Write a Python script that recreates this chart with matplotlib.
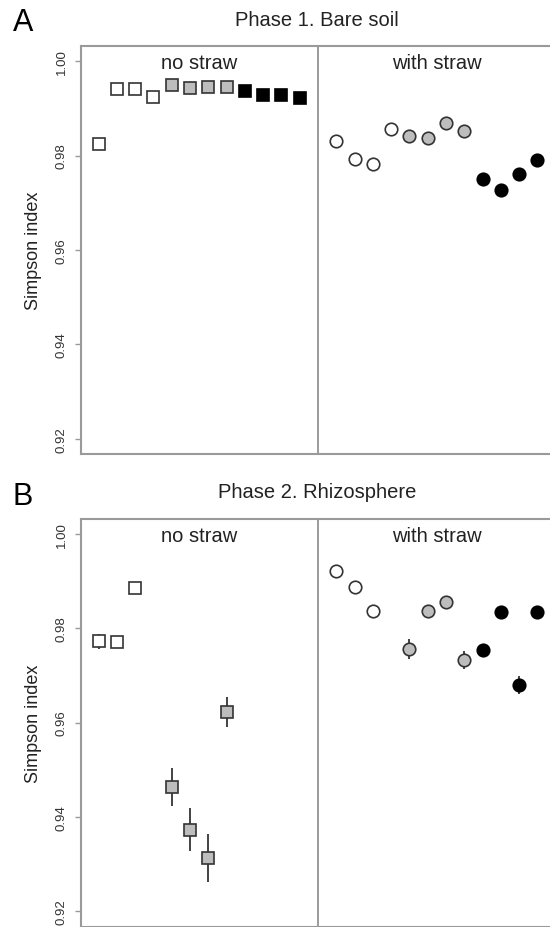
import numpy as np
import matplotlib
matplotlib.use("Agg")
import matplotlib.pyplot as plt

plt.rcParams['font.family'] = ['Liberation Sans', 'DejaVu Sans']

# ---------------- data ----------------
panel_titles = ["Phase 1. Bare soil", "Phase 2. Rhizosphere"]
panel_letters = ["A", "B"]
treatments = ["no straw", "with straw"]
groups = ["white", "gray", "black"]          # 4 samples per group
group_fill = {"white": "white", "gray": "#bdbdbd", "black": "black"}

# Phase 1 (bare soil)
p1_nostraw = [0.9825, 0.9940, 0.9942, 0.9924, 0.9950, 0.9943, 0.9945, 0.9945,
              0.9936, 0.9928, 0.9928, 0.9921]
p1_nostraw_err = [0.0005] * 12
p1_straw = [0.9830, 0.9793, 0.9782, 0.9857, 0.9842, 0.9837, 0.9869, 0.9851,
            0.9750, 0.9727, 0.9761, 0.9791]
p1_straw_err = [0.0005] * 12

# Phase 2 (rhizosphere)
nan = np.nan
p2_nostraw = [0.9772, 0.9770, 0.9885, nan, 0.9463, 0.9373, 0.9313, 0.9623,
              nan, nan, nan, nan]
p2_nostraw_err = [0.0016, 0.0005, 0.0005, nan, 0.0040, 0.0046, 0.0050, 0.0032,
                  nan, nan, nan, nan]
p2_straw = [0.9920, 0.9886, 0.9837, nan, 0.9756, 0.9837, 0.9856, 0.9732,
            0.9753, 0.9834, 0.9680, 0.9834]
p2_straw_err = [0.0005, 0.0005, 0.0005, nan, 0.0021, 0.0005, 0.0005, 0.0019,
                0.0012, 0.0005, 0.0019, 0.0005]

yticks = [0.92, 0.94, 0.96, 0.98, 1.00]
ytick_labels = ["0.92", "0.94", "0.96", "0.98", "1.00"]
ylabel = "Simpson index"

panels = [
    [(p1_nostraw, p1_nostraw_err), (p1_straw, p1_straw_err)],
    [(p2_nostraw, p2_nostraw_err), (p2_straw, p2_straw_err)],
]

# ---------------- figure ----------------
W, H = 550, 928
fig = plt.figure(figsize=(W / 100, H / 100), dpi=100)

axes_px = [(81, 555, 47, 455), (81, 555, 519.5, 927.5)]  # left, right, top, bottom
spine_col = "#9a9a9a"

for pi, ax_box in enumerate(axes_px):
    l, r, t, b = ax_box
    ax = fig.add_axes([l / W, 1 - b / H, (r - l) / W, (b - t) / H])
    ax.set_xlim(0.04, 25.96)
    ax.set_ylim(0.9168, 1.0032)
    for s in ax.spines.values():
        s.set_color(spine_col)
        s.set_linewidth(1.5)
    ax.set_xticks([])
    ax.set_yticks(yticks)
    ax.set_yticklabels(ytick_labels, rotation=90, va='center', fontsize=9.5,
                       color='#333333')
    ax.tick_params(axis='y', length=4.5, width=1, color=spine_col, pad=5)
    ax.set_ylabel(ylabel, fontsize=13, color='#222222', va='center')
    ax.yaxis.set_label_coords(-(81 - 34) / (r - l), 0.5)

    # divider
    ax.axvline(13, color='#808080', lw=1.1)

    for ti, (vals, errs) in enumerate(panels[pi]):
        vals = np.asarray(vals, float)
        errs = np.asarray(errs, float)
        xs = np.arange(1, 13) + 13 * ti
        marker = 's' if ti == 0 else 'o'
        ms = 8.2 if ti == 0 else 9.0
        for gi, g in enumerate(groups):
            sl = slice(gi * 4, gi * 4 + 4)
            ax.errorbar(xs[sl], vals[sl], yerr=errs[sl], fmt='none',
                        ecolor='#222222', elinewidth=1.2, capsize=0, zorder=2)
            edge = '#333333' if g != 'black' else 'black'
            ax.plot(xs[sl], vals[sl], linestyle='none', marker=marker,
                    markersize=ms, markerfacecolor=group_fill[g],
                    markeredgecolor=edge, markeredgewidth=1.2, zorder=3)
        ax.text(6.5 + 13 * ti, 0.99965, treatments[ti], ha='center', va='center',
                fontsize=14.5, color='#222222')

    # title & panel letter
    title_y = [21, 493][pi]
    letter_y = [23, 497][pi]
    fig.text(317 / W, 1 - title_y / H, panel_titles[pi], ha='center',
             va='center', fontsize=14.5, color='#222222')
    fig.text(23 / W, 1 - letter_y / H, panel_letters[pi], ha='center',
             va='center', fontsize=22, color='black')

fig.savefig("out.png", dpi=100)
